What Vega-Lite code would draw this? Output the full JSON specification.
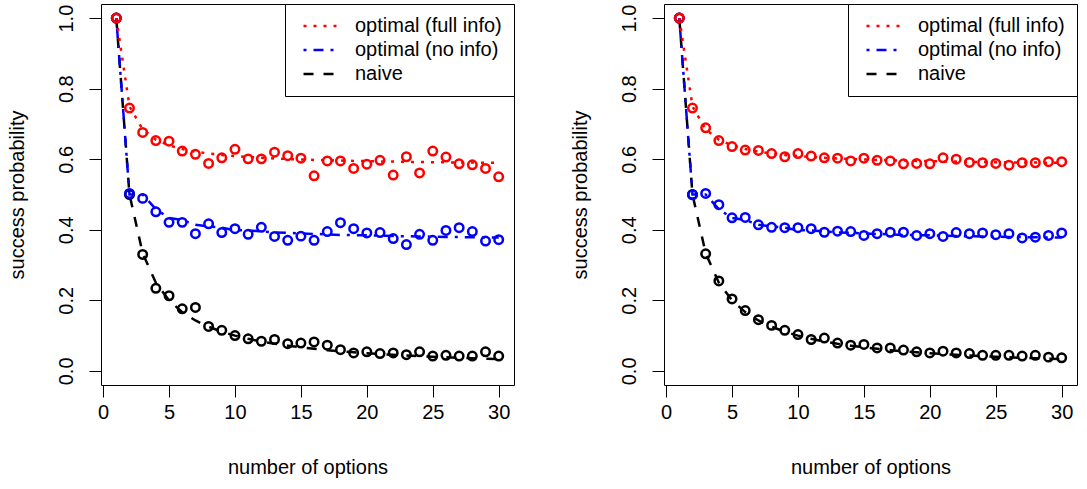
{
  "$schema": "https://vega.github.io/schema/vega-lite/v6.json",
  "background": "white",
  "padding": {"left": 6, "top": 3, "right": 5, "bottom": 5},
  "spacing": 54,
  "config": {
    "font": "Liberation Sans",
    "view": {"stroke": "black", "strokeWidth": 1},
    "axis": {
      "domain": false,
      "grid": false,
      "ticks": true,
      "tickColor": "black",
      "tickSize": 12,
      "tickWidth": 1,
      "labelFont": "Liberation Sans",
      "labelFontSize": 20,
      "labelColor": "black",
      "labelFlush": false,
      "labelOverlap": false,
      "titleFont": "Liberation Sans",
      "titleFontSize": 20,
      "titleFontWeight": "normal",
      "titleColor": "black"
    },
    "axisX": {"labelPadding": 5, "titlePadding": 35},
    "axisY": {"labelAngle": 270, "labelPadding": 13, "titlePadding": 29}
  },
  "datasets": {
    "theory": [
      {"n": 1, "naive": 1, "optimal (no info)": 1, "optimal (full info)": 1},
      {"n": 2, "naive": 0.5, "optimal (no info)": 0.5, "optimal (full info)": 0.75},
      {"n": 3, "naive": 0.3333, "optimal (no info)": 0.5, "optimal (full info)": 0.6843},
      {"n": 4, "naive": 0.25, "optimal (no info)": 0.4583, "optimal (full info)": 0.6554},
      {"n": 5, "naive": 0.2, "optimal (no info)": 0.4333, "optimal (full info)": 0.6392},
      {"n": 6, "naive": 0.1667, "optimal (no info)": 0.4278, "optimal (full info)": 0.6288},
      {"n": 7, "naive": 0.1429, "optimal (no info)": 0.4143, "optimal (full info)": 0.6215},
      {"n": 8, "naive": 0.125, "optimal (no info)": 0.4098, "optimal (full info)": 0.6163},
      {"n": 9, "naive": 0.1111, "optimal (no info)": 0.406, "optimal (full info)": 0.6122},
      {"n": 10, "naive": 0.1, "optimal (no info)": 0.3987, "optimal (full info)": 0.6089},
      {"n": 11, "naive": 0.0909, "optimal (no info)": 0.3984, "optimal (full info)": 0.6063},
      {"n": 12, "naive": 0.0833, "optimal (no info)": 0.3955, "optimal (full info)": 0.6041},
      {"n": 13, "naive": 0.0769, "optimal (no info)": 0.3923, "optimal (full info)": 0.6022},
      {"n": 14, "naive": 0.0714, "optimal (no info)": 0.3917, "optimal (full info)": 0.6006},
      {"n": 15, "naive": 0.0667, "optimal (no info)": 0.3894, "optimal (full info)": 0.5993},
      {"n": 16, "naive": 0.0625, "optimal (no info)": 0.3881, "optimal (full info)": 0.5981},
      {"n": 17, "naive": 0.0588, "optimal (no info)": 0.3873, "optimal (full info)": 0.597},
      {"n": 18, "naive": 0.0556, "optimal (no info)": 0.3854, "optimal (full info)": 0.5961},
      {"n": 19, "naive": 0.0526, "optimal (no info)": 0.385, "optimal (full info)": 0.5952},
      {"n": 20, "naive": 0.05, "optimal (no info)": 0.3842, "optimal (full info)": 0.5945},
      {"n": 21, "naive": 0.0476, "optimal (no info)": 0.3832, "optimal (full info)": 0.5938},
      {"n": 22, "naive": 0.0455, "optimal (no info)": 0.3822, "optimal (full info)": 0.5932},
      {"n": 23, "naive": 0.0435, "optimal (no info)": 0.3818, "optimal (full info)": 0.5926},
      {"n": 24, "naive": 0.0417, "optimal (no info)": 0.3808, "optimal (full info)": 0.5921},
      {"n": 25, "naive": 0.04, "optimal (no info)": 0.3805, "optimal (full info)": 0.5916},
      {"n": 26, "naive": 0.0385, "optimal (no info)": 0.3797, "optimal (full info)": 0.5912},
      {"n": 27, "naive": 0.037, "optimal (no info)": 0.3793, "optimal (full info)": 0.5908},
      {"n": 28, "naive": 0.0357, "optimal (no info)": 0.3788, "optimal (full info)": 0.5904},
      {"n": 29, "naive": 0.0345, "optimal (no info)": 0.3783, "optimal (full info)": 0.5901},
      {"n": 30, "naive": 0.0333, "optimal (no info)": 0.3781, "optimal (full info)": 0.5898}
    ],
    "sim": [
      {"panel": "A", "n": 1, "naive": 1, "optimal (no info)": 1, "optimal (full info)": 1},
      {"panel": "A", "n": 2, "naive": 0.5, "optimal (no info)": 0.503, "optimal (full info)": 0.745},
      {"panel": "A", "n": 3, "naive": 0.33, "optimal (no info)": 0.489, "optimal (full info)": 0.676},
      {"panel": "A", "n": 4, "naive": 0.234, "optimal (no info)": 0.451, "optimal (full info)": 0.653},
      {"panel": "A", "n": 5, "naive": 0.213, "optimal (no info)": 0.421, "optimal (full info)": 0.651},
      {"panel": "A", "n": 6, "naive": 0.176, "optimal (no info)": 0.421, "optimal (full info)": 0.623},
      {"panel": "A", "n": 7, "naive": 0.18, "optimal (no info)": 0.389, "optimal (full info)": 0.614},
      {"panel": "A", "n": 8, "naive": 0.126, "optimal (no info)": 0.417, "optimal (full info)": 0.588},
      {"panel": "A", "n": 9, "naive": 0.115, "optimal (no info)": 0.392, "optimal (full info)": 0.604},
      {"panel": "A", "n": 10, "naive": 0.1, "optimal (no info)": 0.403, "optimal (full info)": 0.628},
      {"panel": "A", "n": 11, "naive": 0.091, "optimal (no info)": 0.387, "optimal (full info)": 0.601},
      {"panel": "A", "n": 12, "naive": 0.084, "optimal (no info)": 0.407, "optimal (full info)": 0.601},
      {"panel": "A", "n": 13, "naive": 0.089, "optimal (no info)": 0.381, "optimal (full info)": 0.62},
      {"panel": "A", "n": 14, "naive": 0.077, "optimal (no info)": 0.37, "optimal (full info)": 0.61},
      {"panel": "A", "n": 15, "naive": 0.079, "optimal (no info)": 0.382, "optimal (full info)": 0.603},
      {"panel": "A", "n": 16, "naive": 0.082, "optimal (no info)": 0.37, "optimal (full info)": 0.553},
      {"panel": "A", "n": 17, "naive": 0.073, "optimal (no info)": 0.395, "optimal (full info)": 0.595},
      {"panel": "A", "n": 18, "naive": 0.06, "optimal (no info)": 0.42, "optimal (full info)": 0.595},
      {"panel": "A", "n": 19, "naive": 0.051, "optimal (no info)": 0.403, "optimal (full info)": 0.574},
      {"panel": "A", "n": 20, "naive": 0.054, "optimal (no info)": 0.391, "optimal (full info)": 0.586},
      {"panel": "A", "n": 21, "naive": 0.049, "optimal (no info)": 0.392, "optimal (full info)": 0.597},
      {"panel": "A", "n": 22, "naive": 0.051, "optimal (no info)": 0.375, "optimal (full info)": 0.555},
      {"panel": "A", "n": 23, "naive": 0.046, "optimal (no info)": 0.358, "optimal (full info)": 0.607},
      {"panel": "A", "n": 24, "naive": 0.054, "optimal (no info)": 0.387, "optimal (full info)": 0.561},
      {"panel": "A", "n": 25, "naive": 0.042, "optimal (no info)": 0.37, "optimal (full info)": 0.623},
      {"panel": "A", "n": 26, "naive": 0.044, "optimal (no info)": 0.398, "optimal (full info)": 0.606},
      {"panel": "A", "n": 27, "naive": 0.042, "optimal (no info)": 0.406, "optimal (full info)": 0.587},
      {"panel": "A", "n": 28, "naive": 0.042, "optimal (no info)": 0.395, "optimal (full info)": 0.584},
      {"panel": "A", "n": 29, "naive": 0.054, "optimal (no info)": 0.368, "optimal (full info)": 0.574},
      {"panel": "A", "n": 30, "naive": 0.042, "optimal (no info)": 0.372, "optimal (full info)": 0.55},
      {"panel": "B", "n": 1, "naive": 1, "optimal (no info)": 1, "optimal (full info)": 1},
      {"panel": "B", "n": 2, "naive": 0.5, "optimal (no info)": 0.499, "optimal (full info)": 0.745},
      {"panel": "B", "n": 3, "naive": 0.332, "optimal (no info)": 0.503, "optimal (full info)": 0.689},
      {"panel": "B", "n": 4, "naive": 0.255, "optimal (no info)": 0.471, "optimal (full info)": 0.653},
      {"panel": "B", "n": 5, "naive": 0.204, "optimal (no info)": 0.434, "optimal (full info)": 0.636},
      {"panel": "B", "n": 6, "naive": 0.171, "optimal (no info)": 0.435, "optimal (full info)": 0.626},
      {"panel": "B", "n": 7, "naive": 0.145, "optimal (no info)": 0.414, "optimal (full info)": 0.625},
      {"panel": "B", "n": 8, "naive": 0.129, "optimal (no info)": 0.407, "optimal (full info)": 0.616},
      {"panel": "B", "n": 9, "naive": 0.115, "optimal (no info)": 0.406, "optimal (full info)": 0.607},
      {"panel": "B", "n": 10, "naive": 0.103, "optimal (no info)": 0.406, "optimal (full info)": 0.616},
      {"panel": "B", "n": 11, "naive": 0.089, "optimal (no info)": 0.403, "optimal (full info)": 0.609},
      {"panel": "B", "n": 12, "naive": 0.093, "optimal (no info)": 0.393, "optimal (full info)": 0.604},
      {"panel": "B", "n": 13, "naive": 0.079, "optimal (no info)": 0.396, "optimal (full info)": 0.603},
      {"panel": "B", "n": 14, "naive": 0.073, "optimal (no info)": 0.395, "optimal (full info)": 0.595},
      {"panel": "B", "n": 15, "naive": 0.075, "optimal (no info)": 0.384, "optimal (full info)": 0.603},
      {"panel": "B", "n": 16, "naive": 0.065, "optimal (no info)": 0.389, "optimal (full info)": 0.597},
      {"panel": "B", "n": 17, "naive": 0.065, "optimal (no info)": 0.393, "optimal (full info)": 0.595},
      {"panel": "B", "n": 18, "naive": 0.059, "optimal (no info)": 0.393, "optimal (full info)": 0.587},
      {"panel": "B", "n": 19, "naive": 0.054, "optimal (no info)": 0.384, "optimal (full info)": 0.588},
      {"panel": "B", "n": 20, "naive": 0.051, "optimal (no info)": 0.389, "optimal (full info)": 0.587},
      {"panel": "B", "n": 21, "naive": 0.056, "optimal (no info)": 0.381, "optimal (full info)": 0.604},
      {"panel": "B", "n": 22, "naive": 0.051, "optimal (no info)": 0.392, "optimal (full info)": 0.6},
      {"panel": "B", "n": 23, "naive": 0.049, "optimal (no info)": 0.389, "optimal (full info)": 0.591},
      {"panel": "B", "n": 24, "naive": 0.044, "optimal (no info)": 0.391, "optimal (full info)": 0.59},
      {"panel": "B", "n": 25, "naive": 0.044, "optimal (no info)": 0.386, "optimal (full info)": 0.588},
      {"panel": "B", "n": 26, "naive": 0.044, "optimal (no info)": 0.389, "optimal (full info)": 0.583},
      {"panel": "B", "n": 27, "naive": 0.042, "optimal (no info)": 0.377, "optimal (full info)": 0.59},
      {"panel": "B", "n": 28, "naive": 0.044, "optimal (no info)": 0.379, "optimal (full info)": 0.59},
      {"panel": "B", "n": 29, "naive": 0.039, "optimal (no info)": 0.384, "optimal (full info)": 0.593},
      {"panel": "B", "n": 30, "naive": 0.037, "optimal (no info)": 0.391, "optimal (full info)": 0.593}
    ]
  },
  "resolve": {
    "scale": {"x": "independent", "y": "independent", "color": "independent", "strokeDash": "independent", "stroke": "independent"},
    "axis": {"x": "independent", "y": "independent"},
    "legend": {"color": "independent", "strokeDash": "independent"}
  },
  "hconcat": [
    {
      "width": 413,
      "height": 381,
      "layer": [
        {
          "data": {"name": "theory"},
          "transform": [{"fold": ["naive", "optimal (no info)", "optimal (full info)"], "as": ["series", "p"]}],
          "mark": {"type": "line", "strokeWidth": 2.5, "strokeCap": "butt"},
          "encoding": {
            "x": {"field": "n", "type": "quantitative", "scale": {"domain": [-0.16, 31.16], "nice": false, "zero": false}, "axis": {"values": [0, 5, 10, 15, 20, 25, 30], "title": "number of options"}},
            "y": {"field": "p", "type": "quantitative", "scale": {"domain": [-0.04, 1.04], "nice": false, "zero": false}, "axis": {"values": [0, 0.2, 0.4, 0.6, 0.8, 1], "format": ".1f", "title": "success probability"}},
            "color": {"field": "series", "type": "nominal", "scale": {"domain": ["optimal (full info)", "optimal (no info)", "naive"], "range": ["#ff0000", "#0000ff", "#000000"]},
              "legend": {"title": null, "orient": "top-right", "offset": 0, "symbolType": "M-2,0H2", "symbolSize": 272, "symbolStrokeWidth": 2.5, "symbolOffset": 13, "labelFontSize": 20, "labelFont": "Liberation Sans", "labelColor": "black", "labelLimit": 300, "labelOffset": 25, "strokeColor": "black", "fillColor": "white", "padding": 12, "rowPadding": 4}},
            "strokeDash": {"field": "series", "type": "nominal", "scale": {"domain": ["optimal (full info)", "optimal (no info)", "naive"], "range": [[3, 7], [3, 7, 10, 7], [10, 10]]},
              "legend": {"title": null, "orient": "top-right", "offset": 0, "symbolType": "M-2,0H2", "symbolSize": 272, "symbolStrokeWidth": 2.5, "symbolOffset": 13, "labelFontSize": 20, "labelFont": "Liberation Sans", "labelColor": "black", "labelLimit": 300, "labelOffset": 25, "strokeColor": "black", "fillColor": "white", "padding": 12, "rowPadding": 4}}
          }
        },
        {
          "data": {"name": "sim"},
          "transform": [{"filter": "datum.panel == 'A'"}, {"fold": ["naive", "optimal (no info)", "optimal (full info)"], "as": ["series", "p"]}],
          "mark": {"type": "point", "shape": "circle", "filled": false, "size": 72, "strokeWidth": 2.5, "opacity": 1},
          "encoding": {
            "x": {"field": "n", "type": "quantitative"},
            "y": {"field": "p", "type": "quantitative"},
            "stroke": {"field": "series", "type": "nominal", "scale": {"domain": ["optimal (full info)", "optimal (no info)", "naive"], "range": ["#ff0000", "#0000ff", "#000000"]}, "legend": null}
          }
        }
      ]
    },
    {
      "width": 413,
      "height": 381,
      "layer": [
        {
          "data": {"name": "theory"},
          "transform": [{"fold": ["naive", "optimal (no info)", "optimal (full info)"], "as": ["series", "p"]}],
          "mark": {"type": "line", "strokeWidth": 2.5, "strokeCap": "butt"},
          "encoding": {
            "x": {"field": "n", "type": "quantitative", "scale": {"domain": [-0.16, 31.16], "nice": false, "zero": false}, "axis": {"values": [0, 5, 10, 15, 20, 25, 30], "title": "number of options"}},
            "y": {"field": "p", "type": "quantitative", "scale": {"domain": [-0.04, 1.04], "nice": false, "zero": false}, "axis": {"values": [0, 0.2, 0.4, 0.6, 0.8, 1], "format": ".1f", "title": "success probability"}},
            "color": {"field": "series", "type": "nominal", "scale": {"domain": ["optimal (full info)", "optimal (no info)", "naive"], "range": ["#ff0000", "#0000ff", "#000000"]},
              "legend": {"title": null, "orient": "top-right", "offset": 0, "symbolType": "M-2,0H2", "symbolSize": 272, "symbolStrokeWidth": 2.5, "symbolOffset": 13, "labelFontSize": 20, "labelFont": "Liberation Sans", "labelColor": "black", "labelLimit": 300, "labelOffset": 25, "strokeColor": "black", "fillColor": "white", "padding": 12, "rowPadding": 4}},
            "strokeDash": {"field": "series", "type": "nominal", "scale": {"domain": ["optimal (full info)", "optimal (no info)", "naive"], "range": [[3, 7], [3, 7, 10, 7], [10, 10]]},
              "legend": {"title": null, "orient": "top-right", "offset": 0, "symbolType": "M-2,0H2", "symbolSize": 272, "symbolStrokeWidth": 2.5, "symbolOffset": 13, "labelFontSize": 20, "labelFont": "Liberation Sans", "labelColor": "black", "labelLimit": 300, "labelOffset": 25, "strokeColor": "black", "fillColor": "white", "padding": 12, "rowPadding": 4}}
          }
        },
        {
          "data": {"name": "sim"},
          "transform": [{"filter": "datum.panel == 'B'"}, {"fold": ["naive", "optimal (no info)", "optimal (full info)"], "as": ["series", "p"]}],
          "mark": {"type": "point", "shape": "circle", "filled": false, "size": 72, "strokeWidth": 2.5, "opacity": 1},
          "encoding": {
            "x": {"field": "n", "type": "quantitative"},
            "y": {"field": "p", "type": "quantitative"},
            "stroke": {"field": "series", "type": "nominal", "scale": {"domain": ["optimal (full info)", "optimal (no info)", "naive"], "range": ["#ff0000", "#0000ff", "#000000"]}, "legend": null}
          }
        }
      ]
    }
  ]
}
